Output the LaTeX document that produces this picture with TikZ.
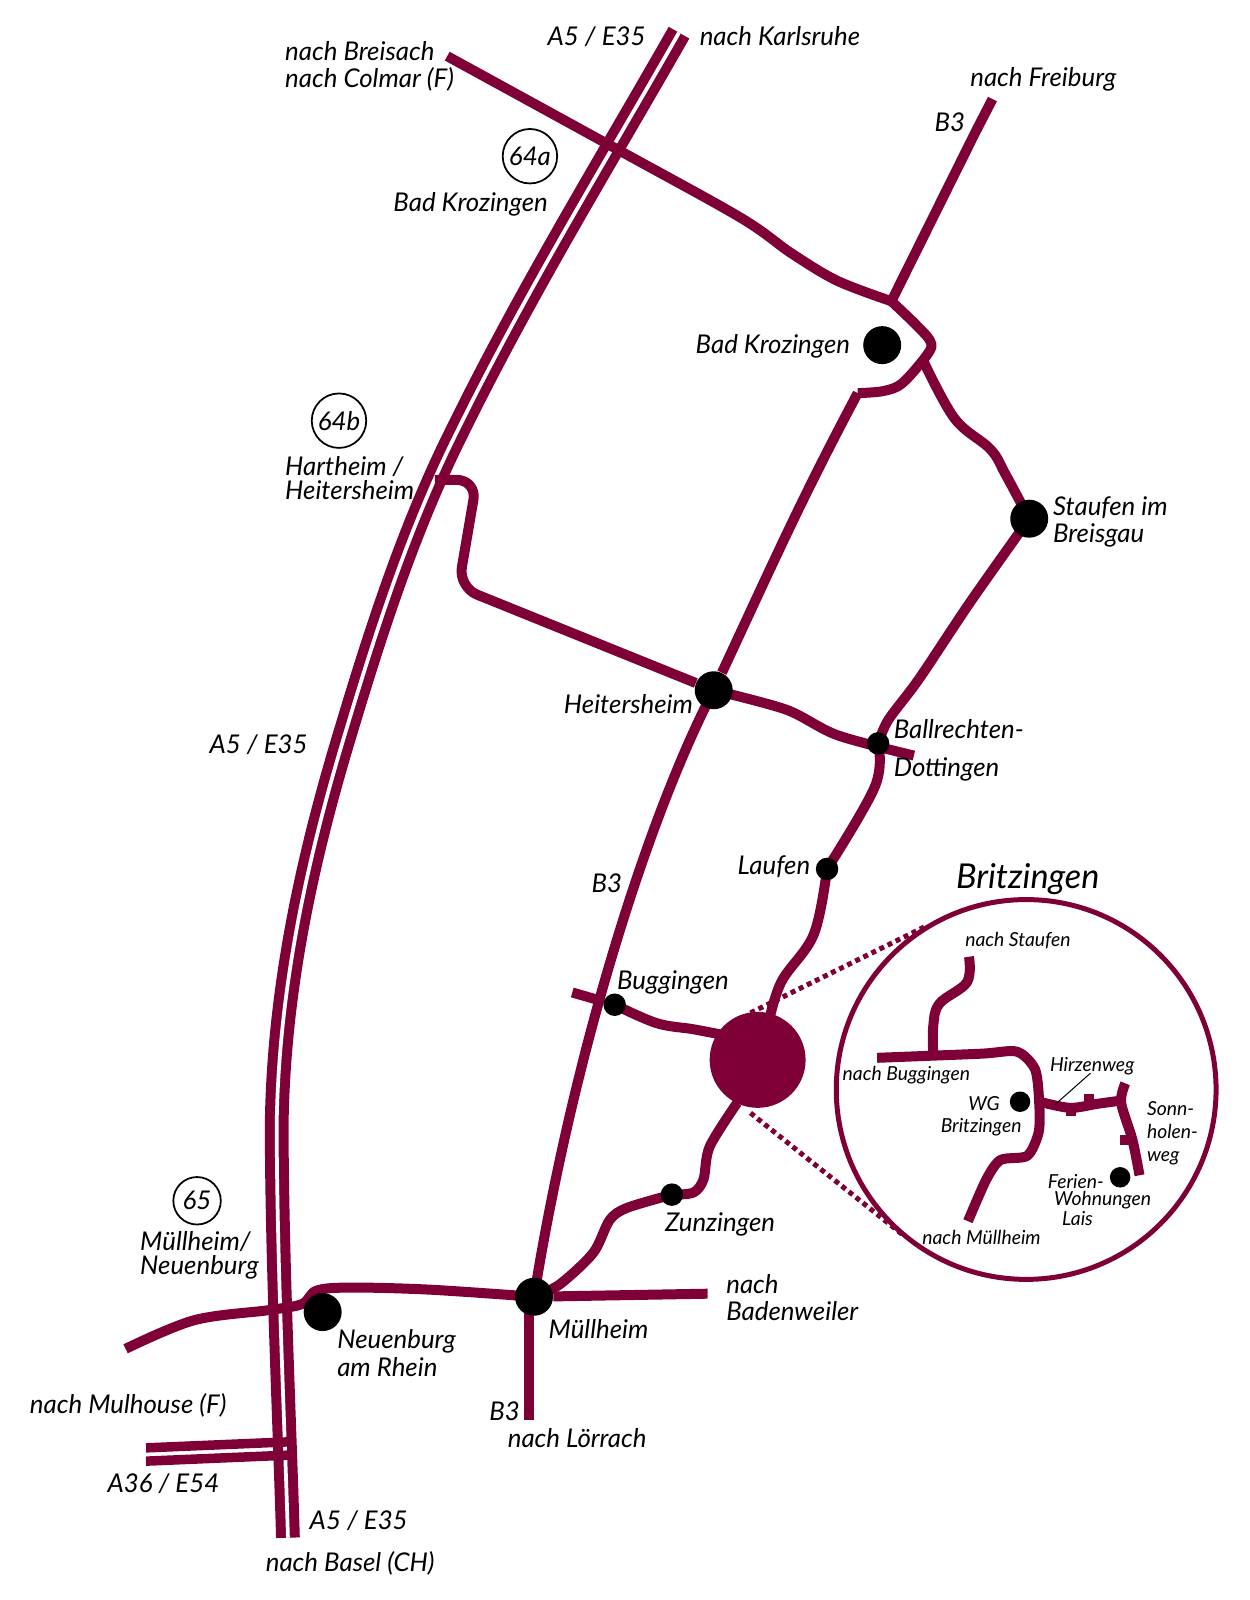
\documentclass[tikz,border=0pt]{standalone}
\usepackage{fontspec}
\setmainfont{Lato}
\usepackage{tikz}
\usetikzlibrary{positioning,backgrounds}
\definecolor{wine}{RGB}{127,0,55}
\tikzset{
  road/.style={draw=wine, line width=0.2cm, line join=round},
  autobahn/.style={draw=wine, line width=0.2cm, double=white, double distance=0.075cm},
  lane/.style={draw=wine, line width=0.19cm},
  lbl/.style={inner sep=0, anchor=west, align=left, text=black, font=\fontsize{14.7}{15.6}\selectfont\itshape},
  lblsmall/.style={inner sep=0, anchor=west, align=left, text=black, font=\fontsize{11}{12.6}\selectfont\itshape},
  exitno/.style={circle, draw=black, line width=0.035cm, inner sep=0, minimum size=1.09cm, font=\fontsize{14.7}{15.6}\selectfont\itshape},
  townbig/.style={circle, fill=black, inner sep=0, minimum size=0.76cm},
  townsmall/.style={circle, fill=black, inner sep=0, minimum size=0.45cm},
  wgdot/.style={circle, fill=black, inner sep=0, minimum size=0.41cm},
  dotline/.style={draw=wine, line width=0.1cm, dash pattern=on 0.1cm off 0.08cm}
}
\begin{document}
\begin{tikzpicture}[x=0.020424cm, y=-0.020424cm]
    \useasboundingbox (0,0) rectangle (1224,1567);

    \coordinate (a5top) at (665,32);
    \coordinate (a5bottom) at (282,1506);
    \coordinate (breisach) at (438,55);
    \coordinate (freiburg) at (972,97);
    \coordinate (kink) at (873,295);
    \coordinate (split) at (905,355);
    \coordinate (exitb) at (426,470);
    \coordinate (ballend) at (895,740);
    \coordinate (buggend) at (560.5,972);
    \coordinate (badenweiler) at (693,1267);
    \coordinate (loerrach) at (518,1391);
    \coordinate (mulhouse) at (123,1321);
    \coordinate (a36a) at (143,1418);
    \coordinate (a36b) at (143,1431);
    \coordinate (a36c) at (285,1412);
    \coordinate (a36d) at (285,1425);
    \coordinate (tostaufen) at (949,937);
    \coordinate (tobuggingen) at (859,1036);
    \coordinate (tomuellheim) at (948,1196);
    \coordinate (hirzstart) at (1018,1079);
    \coordinate (sonntop) at (1102,1061);
    \coordinate (sonnend) at (1116,1151);
    \coordinate (hirzmark) at (1033,1082);
    \coordinate (hirzlabel) at (1068,1051);

    \node[townbig] (krozingen) at (864,338) {};
    \node[townbig] (staufen) at (1008,508) {};
    \node[townbig] (heitersheim) at (699,676) {};
    \node[townsmall] (ballrechten) at (860,728) {};
    \node[townsmall] (laufen) at (810,851) {};
    \node[townsmall] (buggingen) at (602,984) {};
    \node[townsmall] (zunzingen) at (658,1170) {};
    \node[townbig] (muellheim) at (523,1270) {};
    \node[townbig] (neuenburg) at (316,1285) {};
    \node[circle, fill=wine, inner sep=0, minimum size=1.92cm] (britz) at (742,1038) {};
    \node[circle, draw=wine, line width=0.1cm, inner sep=0, minimum size=7.6cm] (lens) at (1005,1067) {};
    \node[wgdot] (wg) at (999,1079) {};
    \node[wgdot] (lais) at (1097,1153) {};

    \begin{pgfonlayer}{background}
    \draw[autobahn] (a5top) .. controls (595,155) and (515,285) .. (447,424)
        .. controls (397,524) and (363,635) .. (336,725)
        .. controls (300,845) and (273,970) .. (271,1100)
        .. controls (271,1230) and (279,1400) .. (a5bottom);

    \draw[lane] (a36a) -- (a36c);
    \draw[lane] (a36b) -- (a36d);

    \draw[road] plot[smooth, tension=0.55] coordinates {(breisach) (604,146) (725,213) (775,248) (820,275) (kink)};
    \draw[road] (freiburg) -- (955,130) -- (kink);
    \draw[road] plot[smooth, tension=0.55] coordinates {(kink) (896,317) (911,334) (909,346) (884,375) (865,383) (840,385)};
    \draw[road] (840,385) to [out=-118,in=65] (heitersheim);
    \draw[road] (heitersheim.center) .. controls (632,805) and (560,1040) .. (muellheim.center);
    \draw[road] plot[smooth, tension=0.6] coordinates {(split) (935,410) (970,440) (985,465) (staufen)};
    \draw[road] plot[smooth, tension=0.5] coordinates {(staufen) (950,590) (900,665) (870,705) (ballrechten)};
    \draw[road] plot[smooth, tension=0.6] coordinates {(ballrechten) (857,770) (laufen)};
    \draw[road] plot[smooth, tension=0.6] coordinates {(laufen) (797,915) (765,962) (752,1005)};
    \draw[road, rounded corners=0.4cm] (heitersheim) -- (449,575) -- (467,470) -- (exitb);
    \draw[road] plot[smooth, tension=0.5] coordinates {(heitersheim) (770,695) (820,720) (ballend)};
    \draw[road] (buggend) -- (buggingen);
    \draw[road] plot[smooth, tension=0.6] coordinates {(buggingen) (643,1002) (679,1008) (710,1014)};
    \draw[road] plot[smooth, tension=0.5] coordinates {(722,1080) (695,1123) (689,1155) (679,1168) (zunzingen)};
    \draw[road] plot[smooth, tension=0.5] coordinates {(zunzingen) (614,1183) (597,1195) (581,1227) (548,1258) (muellheim)};
    \draw[road] (muellheim) -- (badenweiler);
    \draw[road] (518,1270) -- (loerrach);
    \draw[road] plot[smooth, tension=0.55] coordinates {(muellheim) (420,1263) (343,1261) (310,1264) (296,1277) (264,1283) (190,1293) (mulhouse)};

    \draw[dotline] (735,992) -- (905,908);
    \draw[dotline] (735,1090) -- (885,1210);

    \draw[road] plot[smooth, tension=0.6] coordinates {(tostaufen) (947,962) (920,983) (914,1005) (914,1033)};
    \draw[road] plot[smooth, tension=0.45] coordinates {(tobuggingen) (960,1032) (996,1030) (1014,1048) (1018,1085) (1017,1110) (1006,1132) (980,1136) (966,1155) (tomuellheim)};
    \draw[road] plot[smooth, tension=0.5] coordinates {(hirzstart) (1048,1085) (1075,1081) (1097,1078)};
    \draw[road] plot[smooth, tension=0.5] coordinates {(sonntop) (1098,1080) (1109,1116) (sonnend)};
    \draw[road] (1048.5,1085) -- (1048.5,1093);
    \draw[road] (1067,1071) -- (1067,1080);
    \draw[road] (1097,1116) -- (1108,1116);
    \draw[black, line width=0.02cm] (hirzlabel) -- (hirzmark);
    \end{pgfonlayer}

    \node[lbl] (lbreisach) at (279,65) {nach Breisach\\nach Colmar (F)};
    \node[lbl] (la5top) at (536,36) {A5 / E35};
    \node[lbl] (lkarlsruhe) at (685,35) {nach Karlsruhe};
    \node[lbl] (lfreiburg) at (950,78) {nach Freiburg};
    \node[lbl] (lbthree) at (915,120) {B3};
    \node[exitno] (exita) at (519,153) {64a};
    \node[lbl] (lexita) at (385,200) {Bad Krozingen};
    \node[lbl] (lkrozingen) at (681,339) {Bad Krozingen};
    \node[exitno] (exitbb) at (332,412) {64b};
    \node[lbl] (lexitb) at (279,468) {Hartheim /\\[-2pt]Heitersheim};
    \node[lbl] (lstaufen) at (1031,511) {Staufen im\\Breisgau};
    \node[lbl] (la5mid) at (205,729) {A5 / E35};
    \node[lbl] (lheitersheim) at (552,690) {Heitersheim};
    \node[lbl] (lballrechten) at (875,735) {Ballrechten-\\[6pt]Dottingen};
    \node[lbl] (llaufen) at (722,849) {Laufen};
    \node[lbl] (lbthreeb) at (579,865) {B3};
    \node[lbl, font=\fontsize{19.5}{20}\selectfont\itshape] (lbritz) at (936,861) {Britzingen};
    \node[lbl] (lbuggingen) at (604,962) {Buggingen};
    \node[lbl] (lzunzingen) at (651,1199) {Zunzingen};
    \node[lbl] (lbaden) at (711,1271) {nach\\Badenweiler};
    \node[lbl] (lmuellheim) at (537,1302) {Müllheim};
    \node[exitno, minimum size=0.95cm] (exitc) at (193,1176) {65};
    \node[lbl] (lexitc) at (137,1229) {Müllheim/\\[-2pt]Neuenburg};
    \node[lbl] (lneuenburg) at (330,1325) {Neuenburg\\am Rhein};
    \node[lbl] (lmulhouse) at (29,1376) {nach Mulhouse (F)};
    \node[lbl] (lbthreec) at (479,1382) {B3};
    \node[lbl] (lloerrach) at (497,1408) {nach Lörrach};
    \node[lbl] (la36) at (105,1453) {A36 / E54};
    \node[lbl] (la5bottom) at (303,1489) {A5 / E35};
    \node[lbl] (lbasel) at (260,1531) {nach Basel (CH)};

    \node[lblsmall] (lnstaufen) at (945,921) {nach Staufen};
    \node[lblsmall] (lnbuggingen) at (825,1053) {nach Buggingen};
    \node[lblsmall] (lhirzen) at (1028,1044) {Hirzenweg};
    \node[lblsmall] (lwg) at (948,1081) {WG};
    \node[lblsmall] (lwgb) at (921,1104) {Britzingen};
    \node[lblsmall] (lsonn) at (1123,1110) {Sonn-\\[0.5pt]holen-\\[0.5pt]weg};
    \node[lblsmall, font=\fontsize{11}{10}\selectfont\itshape] (lferien) at (1026,1175) {Ferien-\\\hspace*{3.5pt}Wohnungen\\\hspace*{8pt}Lais};
    \node[lblsmall] (lnmuell) at (903,1212) {nach Müllheim};
\end{tikzpicture}
\end{document}
